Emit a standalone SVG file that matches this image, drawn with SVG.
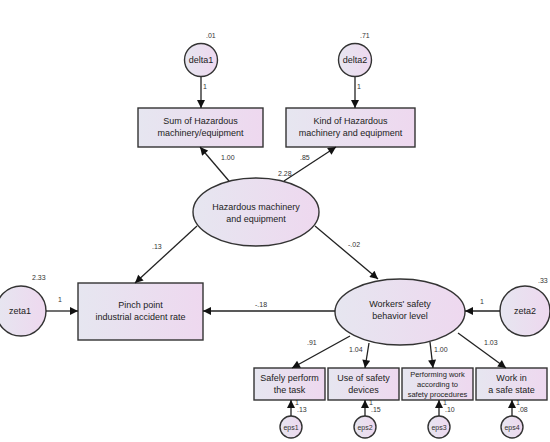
<svg xmlns="http://www.w3.org/2000/svg" width="550" height="442" viewBox="0 0 550 442">
<defs>
<linearGradient id="g" x1="0" y1="0" x2="1" y2="0">
<stop offset="0" stop-color="#e6e6f0"/>
<stop offset="1" stop-color="#eed8ef"/>
</linearGradient>
<marker id="a" viewBox="0 0 10 10" refX="10" refY="5" markerWidth="6" markerHeight="6" markerUnits="userSpaceOnUse" orient="auto">
<path d="M0,0 L10,5 L0,10 z" fill="#111"/>
</marker>
<marker id="ab" viewBox="0 0 10 10" refX="10" refY="5" markerWidth="9" markerHeight="8" markerUnits="userSpaceOnUse" orient="auto">
<path d="M0,0 L10,5 L0,10 z" fill="#111"/>
</marker>
</defs>
<style>
.n{fill:url(#g);stroke:#333;stroke-width:1.4}
.t{font-family:"Liberation Sans",Arial,sans-serif;font-size:9px;fill:#222;text-anchor:middle}
.s{font-family:"Liberation Sans",Arial,sans-serif;font-size:7px;fill:#333}
.c{stroke:#222;stroke-width:1.3;fill:none;marker-end:url(#ab)}
</style>
<rect width="550" height="442" fill="#fff"/>

<g id="delta1"><circle class="n" cx="201" cy="60" r="16.5"/><text class="t" x="201" y="63">delta1</text><text class="s" x="206" y="38">.01</text></g>
<g id="delta2"><circle class="n" cx="355" cy="60" r="16.5"/><text class="t" x="355" y="63">delta2</text><text class="s" x="360" y="38">.71</text></g>
<g id="sumHaz"><rect class="n" x="138" y="108" width="125" height="39"/><text class="t" x="200.5" y="124">Sum of Hazardous</text><text class="t" x="200.5" y="136">machinery/equipment</text></g>
<g id="kindHaz"><rect class="n" x="286" y="108" width="129" height="39"/><text class="t" x="350.5" y="124">Kind of Hazardous</text><text class="t" x="350.5" y="136">machinery and equipment</text></g>
<g id="hazard"><ellipse class="n" cx="256" cy="212" rx="63" ry="34"/><text class="t" x="256" y="210">Hazardous machinery</text><text class="t" x="256" y="222">and equipment</text></g>
<g id="pinch"><rect class="n" x="78" y="283" width="125" height="57"/><text class="t" x="140.5" y="308">Pinch point</text><text class="t" x="140.5" y="320">industrial accident rate</text></g>
<g id="zeta1"><circle class="n" cx="21" cy="311" r="25"/><text class="t" x="20" y="314">zeta1</text><text class="s" x="32" y="280">2.33</text></g>
<g id="workers"><ellipse class="n" cx="400" cy="312" rx="65" ry="33"/><text class="t" x="400" y="307">Workers' safety</text><text class="t" x="400" y="319">behavior level</text></g>
<g id="zeta2"><circle class="n" cx="525" cy="311" r="25"/><text class="t" x="525" y="314">zeta2</text><text class="s" x="538" y="283">.33</text></g>
<g id="safely"><rect class="n" x="254" y="368" width="71" height="32"/><text class="t" x="289.5" y="381">Safely perform</text><text class="t" x="289.5" y="393">the task</text></g>
<g id="useSafety"><rect class="n" x="328" y="368" width="71" height="32"/><text class="t" x="363.5" y="381">Use of safety</text><text class="t" x="363.5" y="393">devices</text></g>
<g id="performing"><rect class="n" x="402" y="368" width="71" height="32"/><text class="t" x="437.5" y="377" style="font-size:7.5px">Performing work</text><text class="t" x="437.5" y="387" style="font-size:7.5px">according to</text><text class="t" x="437.5" y="397" style="font-size:7.5px">safety procedures</text></g>
<g id="workIn"><rect class="n" x="476" y="368" width="71" height="32"/><text class="t" x="511.5" y="381">Work in</text><text class="t" x="511.5" y="393">a safe state</text></g>
<g id="eps1"><circle class="n" cx="291" cy="427" r="11"/><text class="s" x="291" y="430" text-anchor="middle">eps1</text><text class="s" x="295" y="405">1</text><text class="s" x="297" y="412">.13</text></g>
<g id="eps2"><circle class="n" cx="365" cy="427" r="11"/><text class="s" x="365" y="430" text-anchor="middle">eps2</text><text class="s" x="369" y="405">1</text><text class="s" x="371" y="412">.15</text></g>
<g id="eps3"><circle class="n" cx="439" cy="427" r="11"/><text class="s" x="439" y="430" text-anchor="middle">eps3</text><text class="s" x="443" y="405">1</text><text class="s" x="445" y="412">.10</text></g>
<g id="eps4"><circle class="n" cx="512" cy="427" r="11"/><text class="s" x="512" y="430" text-anchor="middle">eps4</text><text class="s" x="516" y="405">1</text><text class="s" x="518" y="412">.08</text></g>

<g id="connectors">
<line class="c" x1="201" y1="77" x2="201" y2="108"/>
<line class="c" x1="355" y1="77" x2="355" y2="108"/>
<line class="c" x1="229" y1="181" x2="200" y2="147"/>
<line class="c" x1="284" y1="181" x2="336" y2="147"/>
<line class="c" x1="197" y1="226" x2="135" y2="283"/>
<line class="c" x1="315" y1="226" x2="378" y2="279"/>
<line class="c" x1="335" y1="311" x2="203" y2="311"/>
<line class="c" x1="46" y1="311" x2="78" y2="311"/>
<line class="c" x1="500" y1="311" x2="465" y2="311"/>
<line class="c" x1="350" y1="336" x2="292" y2="368"/>
<line class="c" x1="369" y1="343" x2="365" y2="368"/>
<line class="c" x1="430" y1="342" x2="433" y2="368"/>
<line class="c" x1="458" y1="333" x2="506" y2="368"/>
<line class="c" x1="291" y1="416" x2="291" y2="400"/>
<line class="c" x1="365" y1="416" x2="365" y2="400"/>
<line class="c" x1="439" y1="416" x2="439" y2="400"/>
<line class="c" x1="512" y1="416" x2="512" y2="400"/>
<text class="s" x="203" y="89">1</text>
<text class="s" x="357" y="89">1</text>
<text class="s" x="221" y="160">1.00</text>
<text class="s" x="300" y="160">.85</text>
<text class="s" x="278" y="176">2.28</text>
<text class="s" x="152" y="249">.13</text>
<text class="s" x="348" y="247">-.02</text>
<text class="s" x="255" y="307">-.18</text>
<text class="s" x="58" y="302">1</text>
<text class="s" x="480" y="304">1</text>
<text class="s" x="307" y="345">.91</text>
<text class="s" x="349" y="352">1.04</text>
<text class="s" x="434" y="352">1.00</text>
<text class="s" x="484" y="345">1.03</text>
</g>
</svg>
